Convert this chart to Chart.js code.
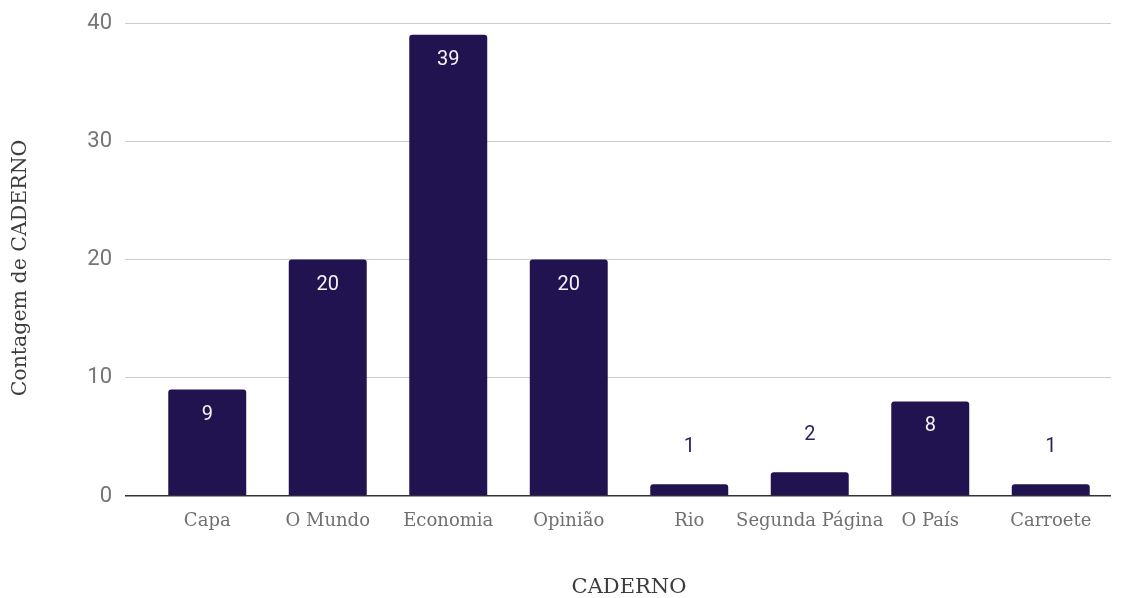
<!DOCTYPE html>
<html lang="pt">
<head>
<meta charset="UTF-8">
<title>Contagem de CADERNO</title>
<script src="https://cdn.jsdelivr.net/npm/chart.js"></script>
<style>
  html, body { margin: 0; padding: 0; background: #fff; }
  #wrap { width: 1124px; height: 598px; }
</style>
</head>
<body>
<div id="wrap"><canvas id="chart"></canvas></div>
<script>
const categories = ['Capa', 'O Mundo', 'Economia', 'Opinião', 'Rio', 'Segunda Página', 'O País', 'Carroete'];
const counts = [9, 20, 39, 20, 1, 2, 8, 1];
const yTicks = [0, 10, 20, 30, 40];
const yTitle = 'Contagem de CADERNO';
const xTitle = 'CADERNO';

const barColor = '#21134f';

// value labels: inside the bar (white) when it's tall enough, above it otherwise
const valueLabels = {
  id: 'valueLabels',
  afterDatasetsDraw(chart) {
    const ctx = chart.ctx;
    const meta = chart.getDatasetMeta(0);
    ctx.save();
    ctx.font = '20px Roboto';
    ctx.textAlign = 'center';
    ctx.textBaseline = 'middle';
    meta.data.forEach((bar, i) => {
      const v = counts[i];
      if (v >= 5) {
        ctx.fillStyle = '#f4f2f8';
        ctx.fillText(String(v), bar.x, bar.y + 25);
      } else {
        ctx.fillStyle = '#2e2360';
        ctx.fillText(String(v), bar.x, bar.y - 37);
      }
    });
    ctx.restore();
  }
};

// y axis title, drawn by hand so it sits a bit below the plot's middle like the original
const yAxisTitle = {
  id: 'yAxisTitle',
  afterDraw(chart) {
    const ctx = chart.ctx;
    ctx.save();
    ctx.translate(21, 268);
    ctx.rotate(-Math.PI / 2);
    ctx.font = '20.5px "DejaVu Serif"';
    ctx.fillStyle = '#3c3c3c';
    ctx.textAlign = 'center';
    ctx.textBaseline = 'middle';
    ctx.fillText(yTitle, 0, 0);
    ctx.restore();
  }
};

new Chart(document.getElementById('chart'), {
  type: 'bar',
  data: {
    labels: categories,
    datasets: [{
      label: yTitle,
      data: counts,
      backgroundColor: barColor,
      borderRadius: 3,
      borderSkipped: 'bottom',
      categoryPercentage: 1,
      barPercentage: 0.647
    }]
  },
  options: {
    responsive: true,
    maintainAspectRatio: false,
    animation: false,
    layout: { padding: { top: 23, right: 13, left: 0, bottom: 0 } },
    plugins: {
      legend: { display: false },
      tooltip: { enabled: false }
    },
    scales: {
      x: {
        grid: { display: false, drawTicks: false },
        border: { display: false },
        ticks: {
          color: '#707070',
          font: { family: 'DejaVu Serif', size: 18 },
          padding: 15,
          maxRotation: 0,
          autoSkip: false
        },
        title: {
          display: true,
          text: xTitle,
          color: '#3c3c3c',
          font: { family: 'DejaVu Serif', size: 21, lineHeight: 1 },
          padding: { top: 0, bottom: 0 }
        },
        afterFit(scale) { scale.height = 102; }
      },
      y: {
        min: 0,
        max: 40,
        afterBuildTicks(scale) { scale.ticks = yTicks.map(v => ({ value: v })); },
        grid: {
          color: (c) => (c.tick && c.tick.value === 0 ? '#333333' : '#cccccc'),
          lineWidth: (c) => (c.tick && c.tick.value === 0 ? 1.5 : 1),
          tickLength: 22,
          drawTicks: true
        },
        border: { display: false },
        ticks: {
          color: '#757575',
          font: { family: 'Roboto', size: 22, lineHeight: 0.9 },
          padding: 13
        },
        title: { display: false },
        afterFit(scale) { scale.width = 147; }
      }
    }
  },
  plugins: [valueLabels, yAxisTitle]
});
</script>
</body>
</html>
